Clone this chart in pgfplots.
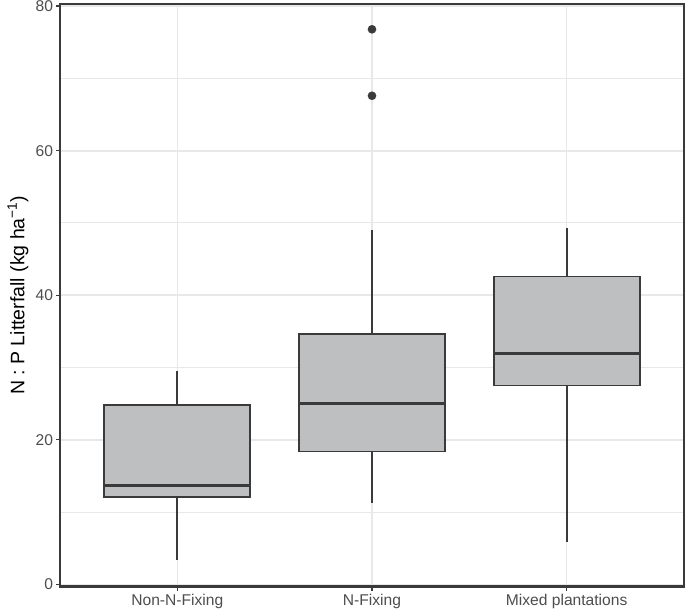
\documentclass[border=0pt]{standalone}
\usepackage{pgfplots}
\pgfplotsset{compat=1.18}
\usepgfplotslibrary{statistics}
\usepackage{fontspec}
\setmainfont{Liberation Sans}
\definecolor{boxfill}{HTML}{BEBFC1}
\definecolor{boxline}{HTML}{3A3A3A}
\definecolor{gridc}{HTML}{E8E8E8}
\definecolor{tickc}{HTML}{4D4D4D}
\begin{document}
\begin{tikzpicture}
\useasboundingbox (-60.5bp,-25.5bp) rectangle (624.5bp,586.5bp);
\begin{axis}[
 at={(0,0)}, anchor=south west, scale only axis,
 width=623bp, height=582.5bp,
 xmin=0.4, xmax=3.6, ymin=-0.3, ymax=80.3,
 xtick={1,2,3}, xticklabels={Non-N-Fixing,N-Fixing,Mixed plantations},
 ytick={0,20,40,60,80}, minor ytick={10,30,50,70},
 grid=both,
 major grid style={gridc, line width=1.6bp},
 minor grid style={gridc, line width=1bp},
 tick align=outside, xtick pos=bottom, ytick pos=left,
 major tick length=4bp, minor tick length=0pt,
 tick style={boxline, line width=1.4bp},
 axis line style={boxline, line width=2bp},
 ticklabel style={font=\fontsize{15.6bp}{18bp}\selectfont, text=tickc},
 /pgf/number format/assume math mode=true,
 ylabel={N : P Litterfall (kg ha\textsuperscript{−1})},
 ylabel style={font=\fontsize{19.5bp}{22bp}\selectfont, at={(axis description cs:-0.0682,0.5)}, anchor=center},
 boxplot/draw direction=y,
 boxplot/box extend=0.75, boxplot/whisker extend=0,
 boxplot/every median/.style={line width=3.2bp},
 boxplot/every whisker/.style={line width=1.7bp},
 boxplot/every box/.style={line width=1.7bp},
]
\addplot[boxplot prepared={draw position=1, lower whisker=3.3, lower quartile=12.1, median=13.7, upper quartile=24.8, upper whisker=29.5}, draw=boxline, fill=boxfill, line width=1.7bp] coordinates {};
\addplot[boxplot prepared={draw position=2, lower whisker=11.3, lower quartile=18.4, median=25.0, upper quartile=34.6, upper whisker=49.0}, draw=boxline, fill=boxfill, line width=1.7bp, mark=*, mark size=4.2bp, mark options={fill=boxline, draw=boxline, line width=0.1bp}] coordinates {(0,76.8) (0,67.6)};
\addplot[boxplot prepared={draw position=3, lower whisker=5.8, lower quartile=27.5, median=31.9, upper quartile=42.6, upper whisker=49.3}, draw=boxline, fill=boxfill, line width=1.7bp] coordinates {};
\end{axis}
\end{tikzpicture}
\end{document}
